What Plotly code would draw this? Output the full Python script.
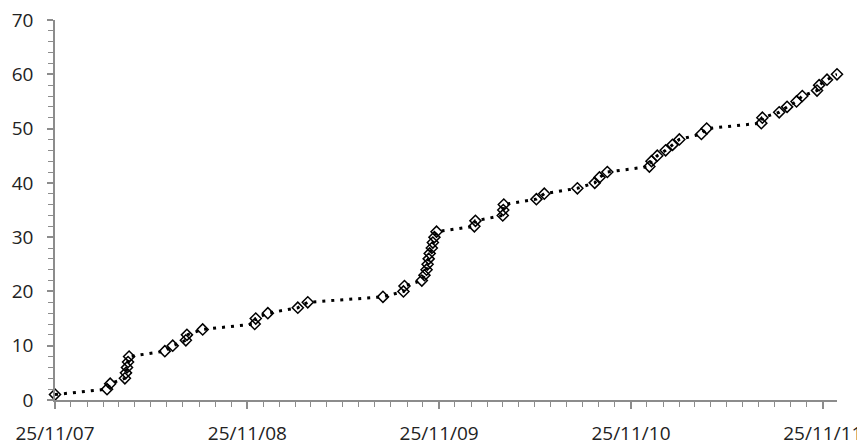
import plotly.graph_objects as go
import pandas as pd

# Cumulative count and the day offsets (from 25/11/2007)
start_date = "2007-11-25"
day_offsets = [0, 99, 105, 133, 135, 137, 139, 141, 209, 224, 249, 251, 281,
               380, 382, 405, 462, 481, 624, 663, 665, 698, 703, 707, 709, 711,
               713, 717, 719, 722, 726, 798, 800, 852, 853, 854, 916, 931, 994,
               1027, 1036, 1051, 1131, 1135, 1146, 1162, 1175, 1188, 1230, 1240,
               1344, 1346, 1378, 1393, 1411, 1422, 1450, 1454, 1469, 1488]
counts = list(range(1, 61))

tick_dates = ["2007-11-25", "2008-11-25", "2009-11-25", "2010-11-25", "2011-11-25"]
tick_labels = ["25/11/07", "25/11/08", "25/11/09", "25/11/10", "25/11/11"]
y_ticks = [0, 10, 20, 30, 40, 50, 60, 70]

dates = pd.to_datetime(start_date) + pd.to_timedelta(day_offsets, unit="D")

fig = go.Figure()
fig.add_trace(go.Scatter(
    x=dates, y=counts, mode="lines+markers",
    line=dict(color="black", width=3, dash="3px,6px"),
    marker=dict(symbol="diamond-open", size=8.5, color="black",
                line=dict(color="black", width=1.5)),
    showlegend=False, cliponaxis=False,
))

axis_col = "#8c8c8c"
font_col = "#222222"
# the page body adds an 8px margin, so the figure is 8px smaller than the window
fig.update_layout(
    width=857, height=439,
    margin=dict(l=47, r=28, t=12, b=47),
    paper_bgcolor="white", plot_bgcolor="white",
    font=dict(family="Open Sans", size=19, color=font_col),
    xaxis=dict(
        type="date", automargin=False, ticklabeloverflow="allow",
        range=[pd.to_datetime(start_date), pd.to_datetime(start_date) + pd.Timedelta(days=1488)],
        tickmode="array", tickvals=tick_dates, ticktext=tick_labels,
        showgrid=False, zeroline=False,
        showline=True, linecolor=axis_col, linewidth=1.5,
        ticks="outside", ticklen=7, tickcolor=axis_col, tickwidth=1.5,
        ticklabelstandoff=8,
        minor=dict(ticks="outside", ticklen=5, tickcolor=axis_col, tickwidth=1,
                   dtick="M1", tick0=start_date, showgrid=False),
    ),
    yaxis=dict(
        range=[0, 70], automargin=False, ticklabeloverflow="allow",
        tickmode="array", tickvals=y_ticks,
        ticktext=[str(v) for v in y_ticks],
        showgrid=False, zeroline=False,
        showline=True, linecolor=axis_col, linewidth=1.5,
        ticks="outside", ticklen=6, tickcolor=axis_col, tickwidth=1.5,
        ticklabelstandoff=10,
        minor=dict(ticks="outside", ticklen=5, tickcolor=axis_col, tickwidth=1,
                   dtick=2, tick0=0, showgrid=False),
    ),
)

fig.write_html("out.html")
